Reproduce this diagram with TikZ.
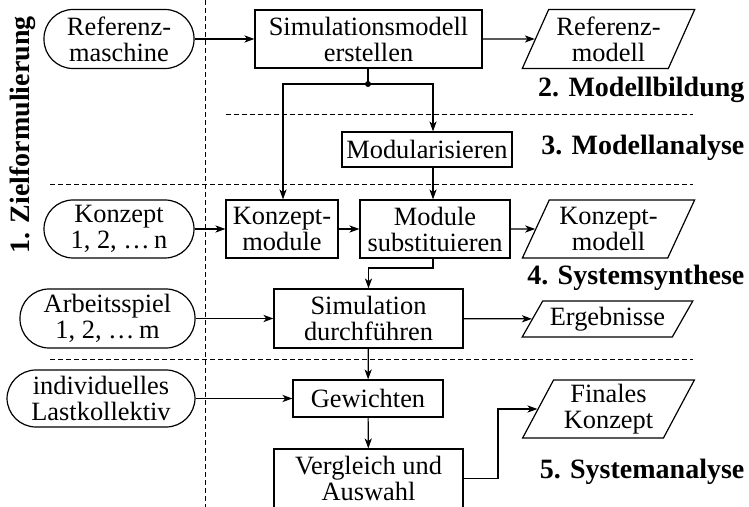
\documentclass[tikz,border=0pt]{standalone}
\usepackage{fontspec}
\setmainfont{Liberation Serif}
\usetikzlibrary{shapes.geometric,arrows.meta,calc}
\begin{document}
\begin{tikzpicture}[x=0.5pt,y=-0.5pt,
  every node/.style={font=\fontsize{13.2}{13}\selectfont, align=center, line width=0.6pt},
  box/.style={draw, rectangle, inner sep=1pt},
  term/.style={draw, rectangle, inner sep=1pt, rounded corners=14.5pt},
  data/.style={draw, trapezium, trapezium left angle=#1, trapezium right angle=180-#1,
               trapezium stretches=true, inner sep=1pt},
  phase/.style={font=\fontsize{14}{15}\selectfont\bfseries, inner sep=0pt},
  arr/.style={line width=0.6pt, -{Stealth[length=5pt,width=3.6pt,inset=1.4pt]}},
  link/.style={line width=0.6pt},
  sep/.style={line width=0.45pt, dash pattern=on 2.4pt off 1.6pt}
]
\clip (0,0) rectangle (749,507);

% phase separators
\draw[sep] (205,0) -- (205,507);
\draw[sep] (226,114) -- (693,114);
\draw[sep] (50,184) -- (693,184);
\draw[sep] (50,359) -- (693,359);

% row 1
\node[term, minimum width=75pt, minimum height=29.5pt] (refm) at (119,39) {Referenz-\\maschine};
\node[box, minimum width=113.5pt, minimum height=29pt] (sim) at (368.5,39) {Simulationsmodell\\erstellen};
\node[data=64, minimum width=86.5pt, minimum height=29.5pt] (refmod) at (608.5,39) {Referenz-\\modell};

% row 2
\node[box, minimum width=85pt, minimum height=17.5pt] (modul) at (427,149.5) {Modularisieren};

% row 3
\node[term, minimum width=75pt, minimum height=29pt] (kon) at (119,229) {Konzept\\1, 2, \dots\,n};
\node[box, minimum width=56pt, minimum height=29pt] (konmod) at (282,229) {Konzept-\\module};
\node[box, minimum width=75pt, minimum height=29pt] (modsub) at (435,229) {Module\\substituieren};
\node[data=64, minimum width=86.5pt, minimum height=29pt] (konmodell) at (608.5,229) {Konzept-\\modell};

% row 4
\node[term, minimum width=87.5pt, minimum height=29.5pt] (arb) at (107.5,318.5) {Arbeitsspiel\\1, 2, \dots\,m};
\node[box, minimum width=94.5pt, minimum height=29.5pt] (simd) at (368.5,318.5) {Simulation\\durchführen};
\node[data=56, minimum width=85.5pt, minimum height=18pt] (erg) at (607.5,319) {Ergebnisse};

% row 5
\node[term, minimum width=94pt, minimum height=28.5pt] (ind) at (101,398.5) {individuelles\\Lastkollektiv};
\node[box, minimum width=75pt, minimum height=18.5pt] (gew) at (368,398.5) {Gewichten};
\node[data=64, minimum width=86.5pt, minimum height=29pt] (fin) at (608.5,409) {Finales\\Konzept};
\node[box, minimum width=94.5pt, minimum height=29.5pt] (verg) at (368.5,478.5) {Vergleich und\\Auswahl};

% phase labels
\node[phase, rotate=90] (p1) at (23,135) {1. Zielformulierung};
\node[phase, anchor=east] (p2) at (745,90) {2. Modellbildung};
\node[phase, anchor=east] (p3) at (745,148) {3. Modellanalyse};
\node[phase, anchor=east] (p4) at (745,278) {4. Systemsynthese};
\node[phase, anchor=east] (p5) at (745,472) {5. Systemanalyse};

% branch points
\coordinate (mx) at (433,0);
\coordinate (dot) at (368,84);

% connectors
\draw[arr] (refm) -- (sim);
\draw[arr] (sim) -- (refmod);
\draw[link] (sim.south -| dot) -- (dot);
\fill (dot) circle (3);
\draw[arr] (dot) -| (konmod.north -| 283,0);
\draw[arr] (dot) -| (modul.north -| mx);
\draw[arr] (modul.south -| mx) -- (modsub.north -| mx);
\draw[arr] (kon) -- (konmod);
\draw[arr] (konmod) -- (modsub);
\draw[arr] (modsub) -- (konmodell);
\draw[arr] (modsub.south -| mx) -- (433,268) -| (simd.north);
\draw[arr] (arb) -- (simd);
\draw[arr] (simd) -- (erg);
\draw[arr] (simd) -- (gew);
\draw[arr] (ind) -- (gew);
\draw[arr] (gew) -- (verg);
\draw[arr] (verg.east) -- (498,478.5) |- (fin);
\end{tikzpicture}
\end{document}
